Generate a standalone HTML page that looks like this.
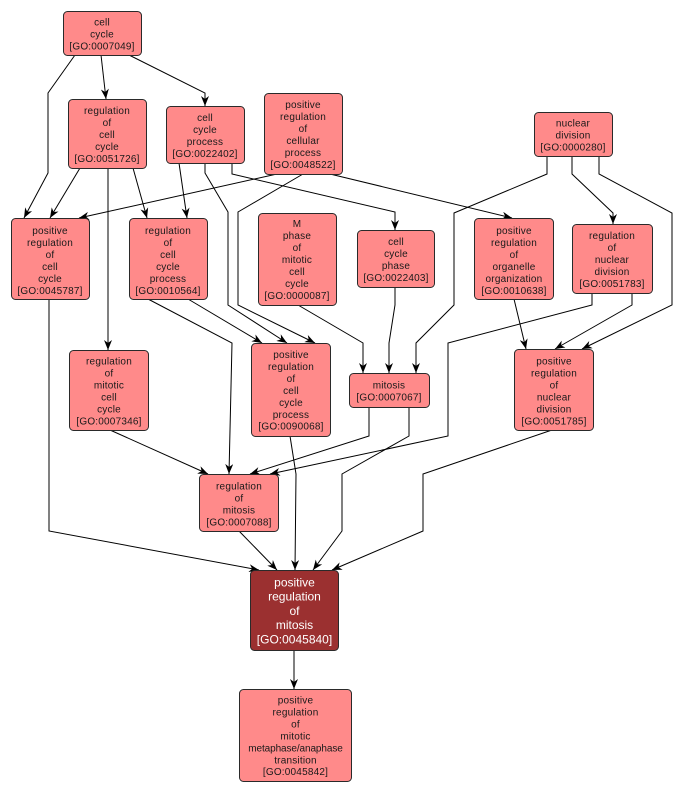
<!DOCTYPE html>
<html><head><meta charset="utf-8"><style>
html,body{margin:0;padding:0;background:#fff;}
svg{display:block;}
text{font-family:"Liberation Sans",Arial,sans-serif;font-size:10px;fill:#1a1a1a;text-anchor:middle;letter-spacing:0.2px;}
.n{fill:#ff8a8a;stroke:#2a2a2a;stroke-width:1;}
.d{fill:#9b3030;stroke:#2a2a2a;stroke-width:1;}
.w{fill:#fff;font-size:12px;letter-spacing:0;}
.e{fill:none;stroke:#000;stroke-width:1;marker-end:url(#a);}
</style></head><body>
<svg width="682" height="794" viewBox="0 0 682 794" xmlns="http://www.w3.org/2000/svg">
<defs>
<marker id="a" markerWidth="10" markerHeight="8" refX="10" refY="4" orient="auto" markerUnits="userSpaceOnUse">
<path d="M0,0 L10,4 L0,8 L3,4 z" fill="#000"/>
</marker>
</defs>

<!-- edges -->
<path class="e" d="M75,55 L48,93 L48,173 L24,218"/>
<path class="e" d="M101,55 L106,99"/>
<path class="e" d="M129,55 L205,93 L205,106"/>
<path class="e" d="M80,168 L50,218"/>
<path class="e" d="M108,168 L108,350"/>
<path class="e" d="M133,168 L147,218"/>
<path class="e" d="M179,163 L187,218"/>
<path class="e" d="M205,163 L205,173 L228,212 L228,305 L287,343"/>
<path class="e" d="M232,163 L232,174 L395,212 L395,230"/>
<path class="e" d="M277,174 L79,218"/>
<path class="e" d="M303,174 L238,212 L238,305 L315,343"/>
<path class="e" d="M330,174 L512,218"/>
<path class="e" d="M298,305 L363,343 L363,373"/>
<path class="e" d="M395,287 L395,305 L389,343 L389,373"/>
<path class="e" d="M547,156 L547,174 L454,213 L454,305 L416,343 L416,373"/>
<path class="e" d="M572,156 L572,174 L613,213 L613,224"/>
<path class="e" d="M599,156 L599,174 L672,213 L672,305 L582,349"/>
<path class="e" d="M514,299 L526,349"/>
<path class="e" d="M592,293 L592,305 L448,343 L448,436 L270,474"/>
<path class="e" d="M632,293 L632,305 L555,349"/>
<path class="e" d="M148,299 L232,343 L229,474"/>
<path class="e" d="M188,299 L262,343"/>
<path class="e" d="M49,299 L49,531 L259,570"/>
<path class="e" d="M110,430 L208,474"/>
<path class="e" d="M290,436 L296,474 L295,570"/>
<path class="e" d="M369,407 L369,436 L250,474"/>
<path class="e" d="M409,407 L409,436 L342,474 L342,531 L313,570"/>
<path class="e" d="M552,430 L423,474 L423,531 L332,570"/>
<path class="e" d="M239,531 L277,570"/>
<path class="e" d="M294,650 L294,689"/>

<!-- nodes -->
<rect class="n" x="63.5" y="11.5" width="78" height="44" rx="4"/>
<text x="102" y="25.5">cell</text><text x="102" y="37.5">cycle</text><text x="102" y="49.5">[GO:0007049]</text>

<rect class="n" x="68.5" y="99.5" width="78" height="69" rx="4"/>
<text x="107" y="114">regulation</text><text x="107" y="126">of</text><text x="107" y="138">cell</text><text x="107" y="150">cycle</text><text x="107" y="162">[GO:0051726]</text>

<rect class="n" x="166.5" y="106.5" width="78" height="57" rx="4"/>
<text x="205" y="121">cell</text><text x="205" y="133">cycle</text><text x="205" y="145">process</text><text x="205" y="157">[GO:0022402]</text>

<rect class="n" x="264.5" y="93.5" width="78" height="81" rx="4"/>
<text x="303" y="108">positive</text><text x="303" y="120">regulation</text><text x="303" y="132">of</text><text x="303" y="144">cellular</text><text x="303" y="156">process</text><text x="303" y="168">[GO:0048522]</text>

<rect class="n" x="11.5" y="218.5" width="78" height="81" rx="4"/>
<text x="50" y="234">positive</text><text x="50" y="246">regulation</text><text x="50" y="258">of</text><text x="50" y="270">cell</text><text x="50" y="282">cycle</text><text x="50" y="294">[GO:0045787]</text>

<rect class="n" x="129.5" y="218.5" width="78" height="81" rx="4"/>
<text x="168" y="234">regulation</text><text x="168" y="246">of</text><text x="168" y="258">cell</text><text x="168" y="270">cycle</text><text x="168" y="282">process</text><text x="168" y="294">[GO:0010564]</text>

<rect class="n" x="258.5" y="213.5" width="78" height="92" rx="4"/>
<text x="297" y="227">M</text><text x="297" y="239">phase</text><text x="297" y="251">of</text><text x="297" y="263">mitotic</text><text x="297" y="275">cell</text><text x="297" y="287">cycle</text><text x="297" y="299">[GO:0000087]</text>

<rect class="n" x="357.5" y="230.5" width="77" height="57" rx="4"/>
<text x="396" y="245">cell</text><text x="396" y="257">cycle</text><text x="396" y="269">phase</text><text x="396" y="281">[GO:0022403]</text>

<rect class="n" x="474.5" y="218.5" width="79" height="81" rx="4"/>
<text x="514" y="234">positive</text><text x="514" y="246">regulation</text><text x="514" y="258">of</text><text x="514" y="270">organelle</text><text x="514" y="282">organization</text><text x="514" y="294">[GO:0010638]</text>

<rect class="n" x="534.5" y="112.5" width="78" height="44" rx="4"/>
<text x="573" y="126.5">nuclear</text><text x="573" y="138.5">division</text><text x="573" y="150.5">[GO:0000280]</text>

<rect class="n" x="572.5" y="224.5" width="80" height="69" rx="4"/>
<text x="612" y="239">regulation</text><text x="612" y="251">of</text><text x="612" y="263">nuclear</text><text x="612" y="275">division</text><text x="612" y="287">[GO:0051783]</text>

<rect class="n" x="69.5" y="350.5" width="79" height="80" rx="4"/>
<text x="109" y="364.5">regulation</text><text x="109" y="376.5">of</text><text x="109" y="388.5">mitotic</text><text x="109" y="400.5">cell</text><text x="109" y="412.5">cycle</text><text x="109" y="424.5">[GO:0007346]</text>

<rect class="n" x="251.5" y="343.5" width="79" height="93" rx="4"/>
<text x="291" y="358">positive</text><text x="291" y="370">regulation</text><text x="291" y="382">of</text><text x="291" y="394">cell</text><text x="291" y="406">cycle</text><text x="291" y="418">process</text><text x="291" y="429.5">[GO:0090068]</text>

<rect class="n" x="349.5" y="373.5" width="80" height="34" rx="4"/>
<text x="389" y="388.5">mitosis</text><text x="389" y="400.5">[GO:0007067]</text>

<rect class="n" x="514.5" y="349.5" width="79" height="81" rx="4"/>
<text x="554" y="364.5">positive</text><text x="554" y="376.5">regulation</text><text x="554" y="388.5">of</text><text x="554" y="400.5">nuclear</text><text x="554" y="412.5">division</text><text x="554" y="424.5">[GO:0051785]</text>

<rect class="n" x="199.5" y="474.5" width="79" height="57" rx="4"/>
<text x="239" y="489.5">regulation</text><text x="239" y="501.5">of</text><text x="239" y="513.5">mitosis</text><text x="239" y="525.5">[GO:0007088]</text>

<rect class="d" x="250.5" y="570.5" width="88" height="80" rx="4"/>
<text class="w" x="294.5" y="586.5">positive</text><text class="w" x="294.5" y="600.5">regulation</text><text class="w" x="294.5" y="615">of</text><text class="w" x="294.5" y="629">mitosis</text><text class="w" x="294.5" y="643.5">[GO:0045840]</text>

<rect class="n" x="239.5" y="689.5" width="112" height="92" rx="4"/>
<text x="295.5" y="703.5">positive</text><text x="295.5" y="715.5">regulation</text><text x="295.5" y="727.5">of</text><text x="295.5" y="739.5">mitotic</text><text x="295.5" y="751.5" style="letter-spacing:-0.1px">metaphase/anaphase</text><text x="295.5" y="763.5">transition</text><text x="295.5" y="775">[GO:0045842]</text>
</svg>
</body></html>
